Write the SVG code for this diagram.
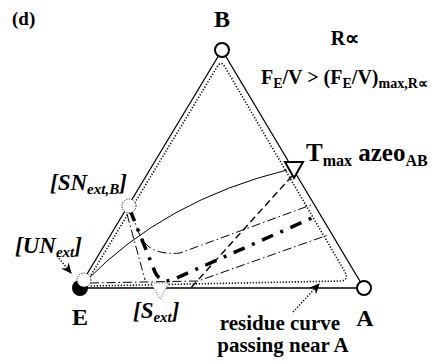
<svg xmlns="http://www.w3.org/2000/svg" width="436" height="362" viewBox="0 0 436 362">
<defs>
<style>
.t{font-family:"Liberation Serif","Times New Roman",serif;font-weight:bold;fill:#000}
.it{font-style:italic}
.edge{stroke:#000;stroke-width:1.3;fill:none}
.dot{stroke:#000;stroke-width:1.6;stroke-dasharray:1.2 1.8;fill:none}
.thin{stroke:#000;stroke-width:1;fill:none}
.dash{stroke:#000;stroke-width:1.4;stroke-dasharray:7 4;fill:none}
.dd{stroke:#000;stroke-width:1;stroke-dasharray:9 3 1.5 3;fill:none}
.thick{stroke:#000;stroke-width:3.5;stroke-dasharray:12 8 3 8;fill:none}
.vtx{fill:#fff;stroke:#000;stroke-width:2}
</style>
<marker id="ah" viewBox="0 0 10 10" refX="9" refY="5" markerWidth="11" markerHeight="11" orient="auto" markerUnits="userSpaceOnUse">
<path d="M0 0.5 L10 5 L0 9.5 L3.5 5 Z" fill="#000"/>
</marker>
</defs>
<rect width="436" height="362" fill="#fff"/>
<text class="t" x="12" y="25" font-size="19">(d)</text>
<g id="connectors">
<line class="edge" x1="222" y1="50" x2="78" y2="289"/>
<line class="edge" x1="222" y1="50" x2="364" y2="288"/>
<line class="edge" x1="80" y1="288" x2="364" y2="288"/>
<path class="dot" d="M88 280 L217 67 Q221 60 225 67 L345 272 Q349 280 341 281 L90 286"/>
<path class="thin" d="M86 281 Q165 200 287 170"/>
<path class="dash" d="M292 176 L189 290"/>
<path class="dd" d="M131 212 L140 236 Q150 256 180 253 L311 205"/>
<path class="dd" d="M127 214 L145 280"/>
<path class="dd" d="M90 283 L198 281 L328 235"/>
<path class="thick" d="M130 210 L155 272 Q160 283 172 280 L312 218"/>
<path class="dot" d="M57 256 L71 273" marker-end="url(#ah)"/>
<path class="dot" d="M293 312 L319 284" marker-end="url(#ah)"/>
</g>
<g id="node-B">
<circle class="vtx" cx="222" cy="50" r="7"/>
<text class="t" x="222" y="27" font-size="24" text-anchor="middle">B</text>
</g>
<g id="node-A">
<circle class="vtx" cx="364" cy="288" r="7"/>
<text class="t" x="365" y="326" font-size="24" text-anchor="middle">A</text>
</g>
<g id="node-E">
<circle cx="80" cy="288" r="8" fill="#000"/>
<text class="t" x="80" y="325" font-size="24" text-anchor="middle">E</text>
</g>
<g id="node-UN">
<circle cx="84" cy="280" r="7" fill="#fff" stroke="#000" stroke-width="1" stroke-dasharray="1 1.5"/>
<text class="t it" x="15" y="253" font-size="23">[UN<tspan font-size="15" dy="4">ext</tspan><tspan dy="-4">]</tspan></text>
</g>
<g id="node-SN">
<circle cx="129" cy="206" r="7" fill="#fff" stroke="#000" stroke-width="1" stroke-dasharray="1 1.5"/>
<text class="t it" x="50" y="190" font-size="23">[SN<tspan font-size="15" dy="4">ext,B</tspan><tspan dy="-4">]</tspan></text>
</g>
<g id="node-Sext">
<path d="M151 283 L169 283 L160 299 Z" fill="#fff" stroke="#666" stroke-width="1" stroke-dasharray="1.2 1.5"/>
<text class="t it" x="133" y="318" font-size="23">[S<tspan font-size="15" dy="4">ext</tspan><tspan dy="-4">]</tspan></text>
</g>
<g id="node-Tmax">
<path class="vtx" d="M285 162 L303 162 L294 178 Z"/>
<text class="t" x="306" y="161" font-size="25">T<tspan font-size="16" dy="5">max</tspan><tspan dy="-5"> azeo</tspan><tspan font-size="16" dy="5">AB</tspan></text>
</g>
<g id="labels">
<text class="t" x="345" y="45" font-size="20" text-anchor="middle">R∝</text>
<text class="t" x="261" y="84" font-size="20">F<tspan font-size="14" dy="4">E</tspan><tspan dy="-4">/V &gt; (F</tspan><tspan font-size="14" dy="4">E</tspan><tspan dy="-4">/V)</tspan><tspan font-size="14" dy="4">max,R∝</tspan></text>
<text class="t" x="280" y="330" font-size="21" text-anchor="middle">residue curve</text>
<text class="t" x="283" y="352" font-size="21" text-anchor="middle">passing near A</text>
</g>
</svg>
